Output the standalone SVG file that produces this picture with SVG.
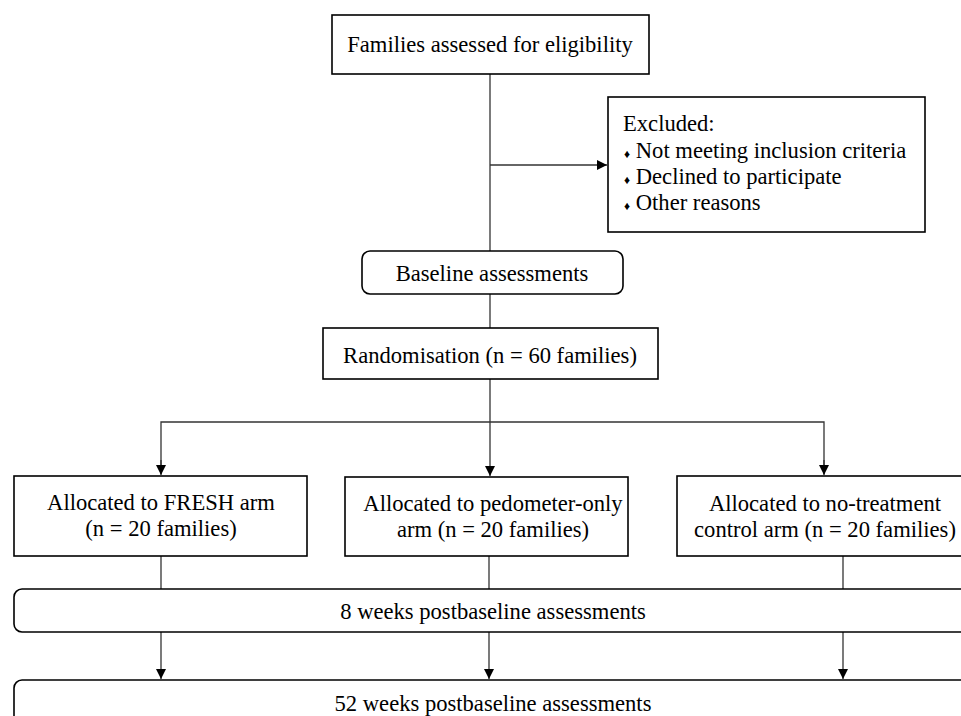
<svg xmlns="http://www.w3.org/2000/svg" width="961" height="716" viewBox="0 0 961 716">
<defs>
<style>
.box{fill:#fff;stroke:#000;stroke-width:1.6}
.t{font-family:"Liberation Serif","Times New Roman",serif;font-size:22.6px;fill:#000}
.c{text-anchor:middle}
.ln{stroke:#333;stroke-width:1.3;fill:none}
.b{font-size:12px}
</style>
<marker id="ah" markerWidth="10" markerHeight="12" refX="10" refY="5" orient="auto" markerUnits="userSpaceOnUse">
<path d="M0,0 L10,5 L0,10 z" fill="#000"/>
</marker>
</defs>
<rect width="961" height="716" fill="#fff"/>
<g id="connectors">
<line class="ln" x1="490" y1="74" x2="490" y2="251"/>
<line class="ln" x1="490" y1="165" x2="607" y2="165" marker-end="url(#ah)"/>
<line class="ln" x1="490" y1="294" x2="490" y2="328"/>
<line class="ln" x1="490" y1="379" x2="490" y2="476" marker-end="url(#ah)"/>
<polyline class="ln" points="161,474 161,422 824,422 824,474" />
<line class="ln" x1="161" y1="460" x2="161" y2="475" marker-end="url(#ah)"/>
<line class="ln" x1="824" y1="460" x2="824" y2="475" marker-end="url(#ah)"/>
<line class="ln" x1="161" y1="556" x2="161" y2="589"/>
<line class="ln" x1="489" y1="556" x2="489" y2="589"/>
<line class="ln" x1="843" y1="556" x2="843" y2="589"/>
<line class="ln" x1="161" y1="632" x2="161" y2="679" marker-end="url(#ah)"/>
<line class="ln" x1="489" y1="632" x2="489" y2="679" marker-end="url(#ah)"/>
<line class="ln" x1="843" y1="632" x2="843" y2="679" marker-end="url(#ah)"/>
</g>
<g id="eligibility">
<rect class="box" x="332" y="15" width="317" height="59"/>
<text class="t c" x="490" y="52">Families assessed for eligibility</text>
</g>
<g id="excluded">
<rect class="box" x="608" y="97" width="317" height="135"/>
<text class="t" x="623" y="131">Excluded:</text>
<text class="t" x="624" y="158"><tspan class="b">♦</tspan> Not meeting inclusion criteria</text>
<text class="t" x="624" y="184"><tspan class="b">♦</tspan> Declined to participate</text>
<text class="t" x="624" y="210"><tspan class="b">♦</tspan> Other reasons</text>
</g>
<g id="baseline">
<rect class="box" x="362" y="251" width="261" height="43" rx="8"/>
<text class="t c" x="492" y="281">Baseline assessments</text>
</g>
<g id="randomisation">
<rect class="box" x="323" y="328" width="335" height="51"/>
<text class="t c" x="490" y="363">Randomisation (n = 60 families)</text>
</g>
<g id="fresh">
<rect class="box" x="14" y="476" width="293" height="80"/>
<text class="t c" x="161" y="510">Allocated to FRESH arm</text>
<text class="t c" x="161" y="536">(n = 20 families)</text>
</g>
<g id="pedometer">
<rect class="box" x="345" y="477" width="283" height="79"/>
<text class="t c" x="493" y="511">Allocated to pedometer-only</text>
<text class="t c" x="493" y="537">arm (n = 20 families)</text>
</g>
<g id="control">
<rect class="box" x="677" y="476" width="290" height="80"/>
<text class="t c" x="825" y="511">Allocated to no-treatment</text>
<text class="t c" x="825" y="537">control arm (n = 20 families)</text>
</g>
<g id="week8">
<rect class="box" x="14" y="589" width="960" height="43" rx="8"/>
<text class="t c" x="493" y="619">8 weeks postbaseline assessments</text>
</g>
<g id="week52">
<rect class="box" x="14" y="680" width="960" height="60" rx="8"/>
<text class="t c" x="493" y="711">52 weeks postbaseline assessments</text>
</g>
</svg>
